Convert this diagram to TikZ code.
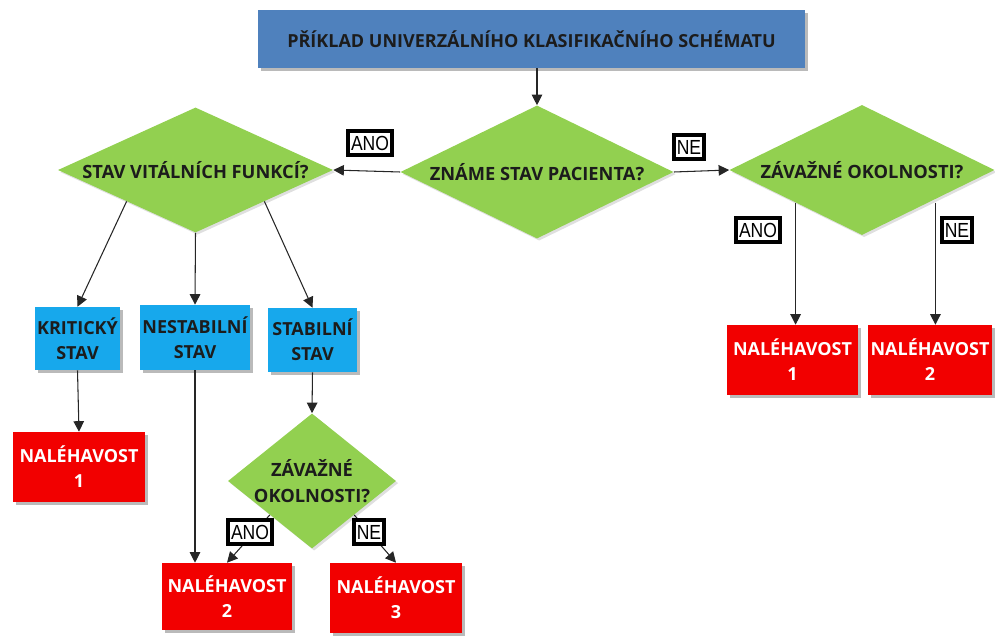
\documentclass[tikz,border=0pt]{standalone}
\usepackage{fontspec}
\setmainfont{Open Sans}
\newfontfamily\labelfont[FakeStretch=0.86]{Liberation Sans}
\usetikzlibrary{shapes.geometric,arrows.meta,shadows}

\definecolor{titleblue}{HTML}{4F81BD}
\definecolor{stateblue}{HTML}{17A8EC}
\definecolor{leafred}{HTML}{F20000}
\definecolor{decgreen}{HTML}{92D050}
\definecolor{inktext}{HTML}{1C1C1C}

\tikzset{
  shade/.style={drop shadow={shadow xshift=2.2pt,shadow yshift=-2.2pt,opacity=0.45,fill=black!60}},
  titlebox/.style={rectangle,fill=titleblue,shade,text=inktext,
    font=\fontsize{12.8}{15}\selectfont\bfseries,inner sep=0pt},
  statebox/.style={rectangle,fill=stateblue,shade,text=inktext,align=center,
    font=\fontsize{12.8}{17.8}\selectfont\bfseries,inner sep=0pt},
  leafbox/.style={rectangle,fill=leafred,shade,text=white,align=center,
    font=\fontsize{12.8}{17.8}\selectfont\bfseries,inner sep=0pt},
  decision/.style={diamond,fill=decgreen,
    drop shadow={shadow xshift=1.5pt,shadow yshift=-1.5pt,opacity=0.25,fill=black!50},
    inner sep=0pt,label={[text=inktext,align=center,
      font=\fontsize{13}{18.5}\selectfont\bfseries]center:#1}},
  answer/.style={rectangle,draw=black,line width=2.9pt,fill=white,
    font=\labelfont\fontsize{14.5}{14.5}\selectfont,inner xsep=2pt,inner ysep=1.5pt,
    minimum height=0.6cm},
  flow/.style={draw=black!85,line width=0.75pt,
    -{Triangle[length=7.5pt,width=7.5pt]}},
}

\begin{document}
\begin{tikzpicture}[x=0.025cm,y=-0.025cm]
\useasboundingbox (0,0) rectangle (995,643);

% heading
\node[titlebox,minimum width=13.675cm,minimum height=1.45cm] (title) at (531.5,39)
  {PŘÍKLAD UNIVERZÁLNÍHO KLASIFIKAČNÍHO SCHÉMATU};

% first level decisions
\node[decision={ZNÁME STAV PACIENTA?},minimum width=6.825cm,minimum height=3.325cm]
  (known) at (537,172) {};
\node[decision={STAV VITÁLNÍCH FUNKCÍ?},minimum width=6.875cm,minimum height=3.125cm]
  (vital) at (195.5,170) {};
\node[decision={ZÁVAŽNÉ OKOLNOSTI?},minimum width=6.625cm,minimum height=3.25cm]
  (serious) at (862,170) {};

% patient states
\node[statebox,minimum width=2.125cm,minimum height=1.575cm] (crit) at (77.5,338.5)
  {KRITICKÝ\\STAV};
\node[statebox,minimum width=2.75cm,minimum height=1.625cm] (unstab) at (195,337.5)
  {NESTABILNÍ\\STAV};
\node[statebox,minimum width=2.225cm,minimum height=1.6cm] (stab) at (312.5,340)
  {STABILNÍ\\STAV};

% second check for stable patients
\node[decision={ZÁVAŽNÉ\\OKOLNOSTI?},minimum width=4.2cm,minimum height=3.375cm]
  (serious2) at (312,481) {};

% urgency levels
\node[leafbox,minimum width=3.3cm,minimum height=1.75cm] (urgA) at (79,467)
  {NALÉHAVOST\\1};
\node[leafbox,minimum width=3.25cm,minimum height=1.675cm] (urgB) at (227,596.5)
  {NALÉHAVOST\\2};
\node[leafbox,minimum width=3.3cm,minimum height=1.75cm] (urgC) at (396,598)
  {NALÉHAVOST\\3};
\node[leafbox,minimum width=3.275cm,minimum height=1.75cm] (urgD) at (792.5,360)
  {NALÉHAVOST\\1};
\node[leafbox,minimum width=3.1cm,minimum height=1.75cm] (urgE) at (930,360)
  {NALÉHAVOST\\2};

% connectors
\draw[flow] (title.south -| known.north) -- (known.north);
\draw[flow] (known.west) -- (vital.east);
\draw[flow] (known.east) -- (serious.west);
\draw[flow] (vital.south west) -- (crit.north);
\draw[flow] (vital.south) -- (unstab.north);
\draw[flow] (vital.south east) -- (stab.north);
\draw[flow] (crit.south) -- (urgA.north);
\draw[flow] (unstab.south) -- (unstab.south |- urgB.north);
\draw[flow] (stab.south) -- (serious2.north);
\draw[flow] (serious2.south west) -- (urgB.north);
\draw[flow] (serious2.south east) -- (urgC.north);
\draw[flow] (serious.south west) -- (serious.south west |- urgD.north);
\draw[flow] ([xshift=0.175cm]serious.south east) -- ([xshift=0.175cm]serious.south east |- urgE.north);

% answer tags
\node[answer] (yesA) at (370,143) {ANO};
\node[answer] (noA) at (689,147) {NE};
\node[answer] (yesB) at (758,230) {ANO};
\node[answer] (noB) at (957,230) {NE};
\node[answer] (yesC) at (250,532) {ANO};
\node[answer] (noC) at (369,532) {NE};
\end{tikzpicture}
\end{document}
